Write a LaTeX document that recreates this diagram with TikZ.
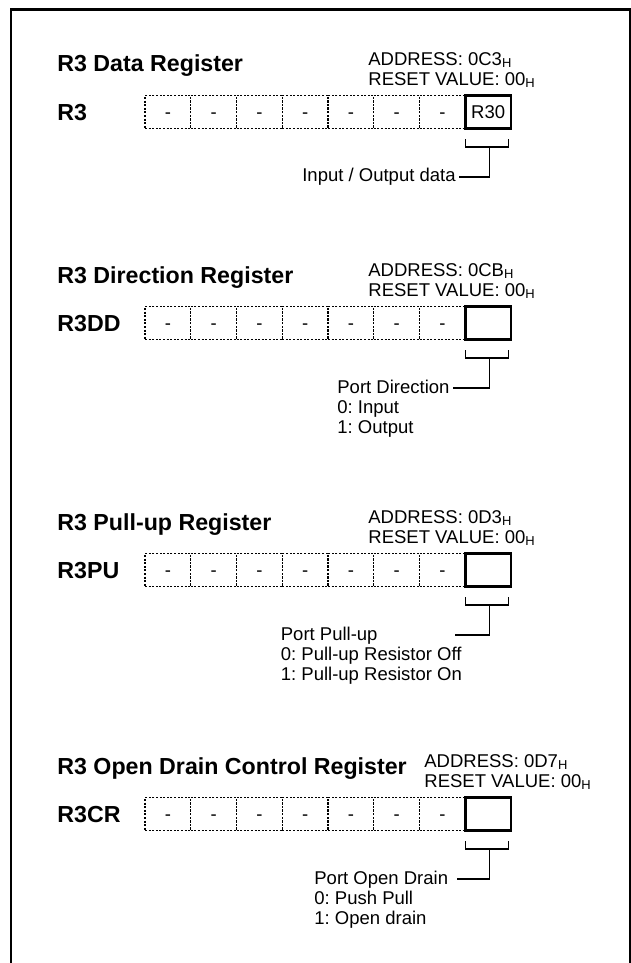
\documentclass[tikz,border=0pt]{standalone}
\usepackage{fontspec}
\setmainfont{Liberation Sans}
\usetikzlibrary{positioning}

\begin{document}
\frenchspacing
\begin{tikzpicture}[x=0.5pt, y=-0.5pt,
  regtitle/.style={anchor=base west, inner sep=0pt, font=\fontsize{11.6}{13}\selectfont\bfseries},
  note/.style={inner sep=0pt, align=left, font=\fontsize{9.25}{10}\selectfont},
  bit/.style={draw, line width=0.7pt, dash pattern=on 1pt off 0.8pt, minimum width=22.875pt, minimum height=16.5pt, inner sep=0pt, outer sep=0pt, text height=6.6pt, text depth=0pt, font=\fontsize{9.25}{10}\selectfont},
  bitsel/.style={draw, line width=1.4pt, minimum width=22.875pt, minimum height=16.5pt, inner sep=0pt, outer sep=0pt, font=\fontsize{9.25}{10}\selectfont},
  brk/.style={line width=0.55pt},
  boxframe/.style={line width=1.2pt}]
\useasboundingbox (0,0) rectangle (631,963);
\draw[boxframe] (11,963) -- (11,9.6) -- (630,9.6) -- (630,963);
% register rows, bits 7..1 unused
\foreach \reg/\r in {dat/112,dir/323,pu/570,od/814}
  \foreach \i in {1,...,7}
    \node[bit] (\reg\i) at ({145+45.75*(\i-0.5)},\r) {-};
\node[bitsel, right=0pt of dat7] (dat8) {R30};
\node[bitsel, right=0pt of dir7] (dir8) {};
\node[bitsel, right=0pt of pu7] (pu8) {};
\node[bitsel, right=0pt of od7] (od8) {};
% titles and names
\node[regtitle] (datTitle) at (57,72) {R3 Data Register};
\node[regtitle] (datName) at (57,120) {R3};
\node[regtitle] (dirTitle) at (57,283) {R3 Direction Register};
\node[regtitle] (dirName) at (57,331) {R3DD};
\node[regtitle] (puTitle) at (57,530) {R3 Pull-up Register};
\node[regtitle] (puName) at (57,578) {R3PU};
\node[regtitle] (odTitle) at (57,774) {R3 Open Drain Control Register};
\node[regtitle] (odName) at (57,822) {R3CR};
% address / reset value
\node[note, anchor=north west] (datAddr) at (368,51.8) {ADDRESS: 0C3\textsubscript{H}\\RESET VALUE: 00\textsubscript{H}};
\node[note, anchor=north west] (dirAddr) at (368,262.8) {ADDRESS: 0CB\textsubscript{H}\\RESET VALUE: 00\textsubscript{H}};
\node[note, anchor=north west] (puAddr) at (368,509.8) {ADDRESS: 0D3\textsubscript{H}\\RESET VALUE: 00\textsubscript{H}};
\node[note, anchor=north west] (odAddr) at (424,753.8) {ADDRESS: 0D7\textsubscript{H}\\RESET VALUE: 00\textsubscript{H}};
% bit descriptions
\node[note, anchor=east, inner xsep=1.5pt] (datNote) at (459,177) {Input / Output data};
\node[note, anchor=north west] (dirNote) at (337,379.8) {Port Direction\\0: Input\\1: Output};
\coordinate (dirTip) at (453,388);
\node[note, anchor=north west] (puNote) at (280.5,626.8) {Port Pull-up\\0: Pull-up Resistor Off\\1: Pull-up Resistor On};
\coordinate (puTip) at (455,635);
\node[note, anchor=north west] (odNote) at (314,870.8) {Port Open Drain\\0: Push Pull\\1: Open drain};
\coordinate (odTip) at (457,879);
% brackets
\draw[brk] ([yshift=-5.25pt]dat8.south west) -- ++(0,8) -| ([xshift=-1.25pt,yshift=-5.25pt]dat8.south east);
\draw[brk] ([xshift=.75pt,yshift=-9.25pt]dat8.south) |- (datNote.east);
\draw[brk] ([yshift=-5.25pt]dir8.south west) -- ++(0,8) -| ([xshift=-1.25pt,yshift=-5.25pt]dir8.south east);
\draw[brk] ([xshift=.75pt,yshift=-9.25pt]dir8.south) |- (dirTip);
\draw[brk] ([yshift=-5.25pt]pu8.south west) -- ++(0,8) -| ([xshift=-1.25pt,yshift=-5.25pt]pu8.south east);
\draw[brk] ([xshift=.75pt,yshift=-9.25pt]pu8.south) |- (puTip);
\draw[brk] ([yshift=-5.25pt]od8.south west) -- ++(0,8) -| ([xshift=-1.25pt,yshift=-5.25pt]od8.south east);
\draw[brk] ([xshift=.75pt,yshift=-9.25pt]od8.south) |- (odTip);
\end{tikzpicture}
\end{document}
